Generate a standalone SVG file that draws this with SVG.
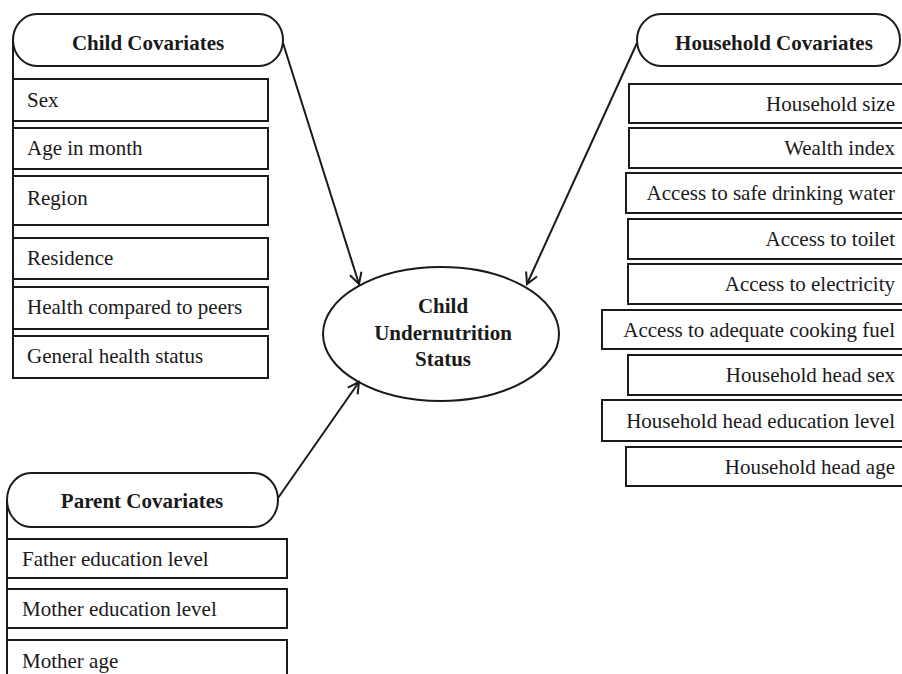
<svg xmlns="http://www.w3.org/2000/svg" width="902" height="674" viewBox="0 0 902 674">
<style>
.box{fill:#fff;stroke:#1a1a1a;stroke-width:2}
.pill{fill:#fff;stroke:#1a1a1a;stroke-width:2}
.t{font-family:"Liberation Serif","Times New Roman",serif;font-size:21px;fill:#1a1a1a}
.h{font-family:"Liberation Serif","Times New Roman",serif;font-size:21px;font-weight:bold;fill:#1a1a1a;text-anchor:middle}
.r{text-anchor:end}
.vl{stroke:#1a1a1a;stroke-width:2;fill:none}
.conn{stroke:#1a1a1a;stroke-width:2;fill:none;marker-end:url(#arr)}
</style>
<defs>
<marker id="arr" markerWidth="14" markerHeight="14" refX="12" refY="7" orient="auto" markerUnits="userSpaceOnUse">
<path d="M1,1 L12,7 L1,13" fill="none" stroke="#1a1a1a" stroke-width="2"/>
</marker>
</defs>
<rect width="902" height="674" fill="#fff"/>

<g id="child-covariates">
<line class="vl" x1="13" y1="40" x2="13" y2="378"/>
<rect class="pill" x="13" y="14" width="270" height="52" rx="24" ry="26"/>
<text class="h" x="148" y="50">Child Covariates</text>
<rect class="box" x="13" y="79" width="255" height="42"/>
<text class="t" x="27" y="107">Sex</text>
<rect class="box" x="13" y="128" width="255" height="41"/>
<text class="t" x="27" y="155">Age in month</text>
<rect class="box" x="13" y="176" width="255" height="49"/>
<text class="t" x="27" y="205">Region</text>
<rect class="box" x="13" y="238" width="255" height="41"/>
<text class="t" x="27" y="265">Residence</text>
<rect class="box" x="13" y="287" width="255" height="42"/>
<text class="t" x="27" y="314">Health compared to peers</text>
<rect class="box" x="13" y="336" width="255" height="42"/>
<text class="t" x="27" y="363">General health status</text>
</g>

<g id="parent-covariates">
<line class="vl" x1="7" y1="500" x2="7" y2="674"/>
<rect class="pill" x="7" y="473" width="271" height="54" rx="24" ry="27"/>
<text class="h" x="142" y="508">Parent Covariates</text>
<rect class="box" x="7" y="539" width="280" height="39"/>
<text class="t" x="22" y="566">Father education level</text>
<rect class="box" x="7" y="589" width="280" height="39"/>
<text class="t" x="22" y="616">Mother education level</text>
<rect class="box" x="7" y="640" width="280" height="50"/>
<text class="t" x="22" y="668">Mother age</text>
</g>

<g id="household-covariates">
<rect class="pill" x="637" y="14" width="263" height="52" rx="24" ry="26"/>
<text class="h" x="774" y="50">Household Covariates</text>
<rect class="box" x="629" y="84" width="290" height="39"/>
<text class="t r" x="895" y="111">Household size</text>
<rect class="box" x="629" y="128" width="290" height="40"/>
<text class="t r" x="895" y="155">Wealth index</text>
<rect class="box" x="626" y="173" width="293" height="40"/>
<text class="t r" x="895" y="200">Access to safe drinking water</text>
<rect class="box" x="628" y="219" width="291" height="40"/>
<text class="t r" x="895" y="246">Access to toilet</text>
<rect class="box" x="628" y="264" width="291" height="40"/>
<text class="t r" x="895" y="291">Access to electricity</text>
<rect class="box" x="602" y="310" width="317" height="39"/>
<text class="t r" x="895" y="337">Access to adequate cooking fuel</text>
<rect class="box" x="628" y="355" width="291" height="40"/>
<text class="t r" x="895" y="382">Household head sex</text>
<rect class="box" x="602" y="400" width="317" height="41"/>
<text class="t r" x="895" y="428">Household head education level</text>
<rect class="box" x="626" y="447" width="293" height="39"/>
<text class="t r" x="895" y="474">Household head age</text>
</g>

<g id="child-undernutrition-status">
<ellipse cx="441" cy="334" rx="118" ry="67" fill="#fff" stroke="#1a1a1a" stroke-width="2"/>
<text class="h" x="443" y="313">Child</text>
<text class="h" x="443" y="340">Undernutrition</text>
<text class="h" x="443" y="366">Status</text>
</g>

<g id="connectors">
<line class="conn" x1="283" y1="43" x2="359" y2="284"/>
<line class="conn" x1="637" y1="43" x2="527" y2="284"/>
<line class="conn" x1="278" y1="498" x2="359" y2="382"/>
</g>
</svg>
